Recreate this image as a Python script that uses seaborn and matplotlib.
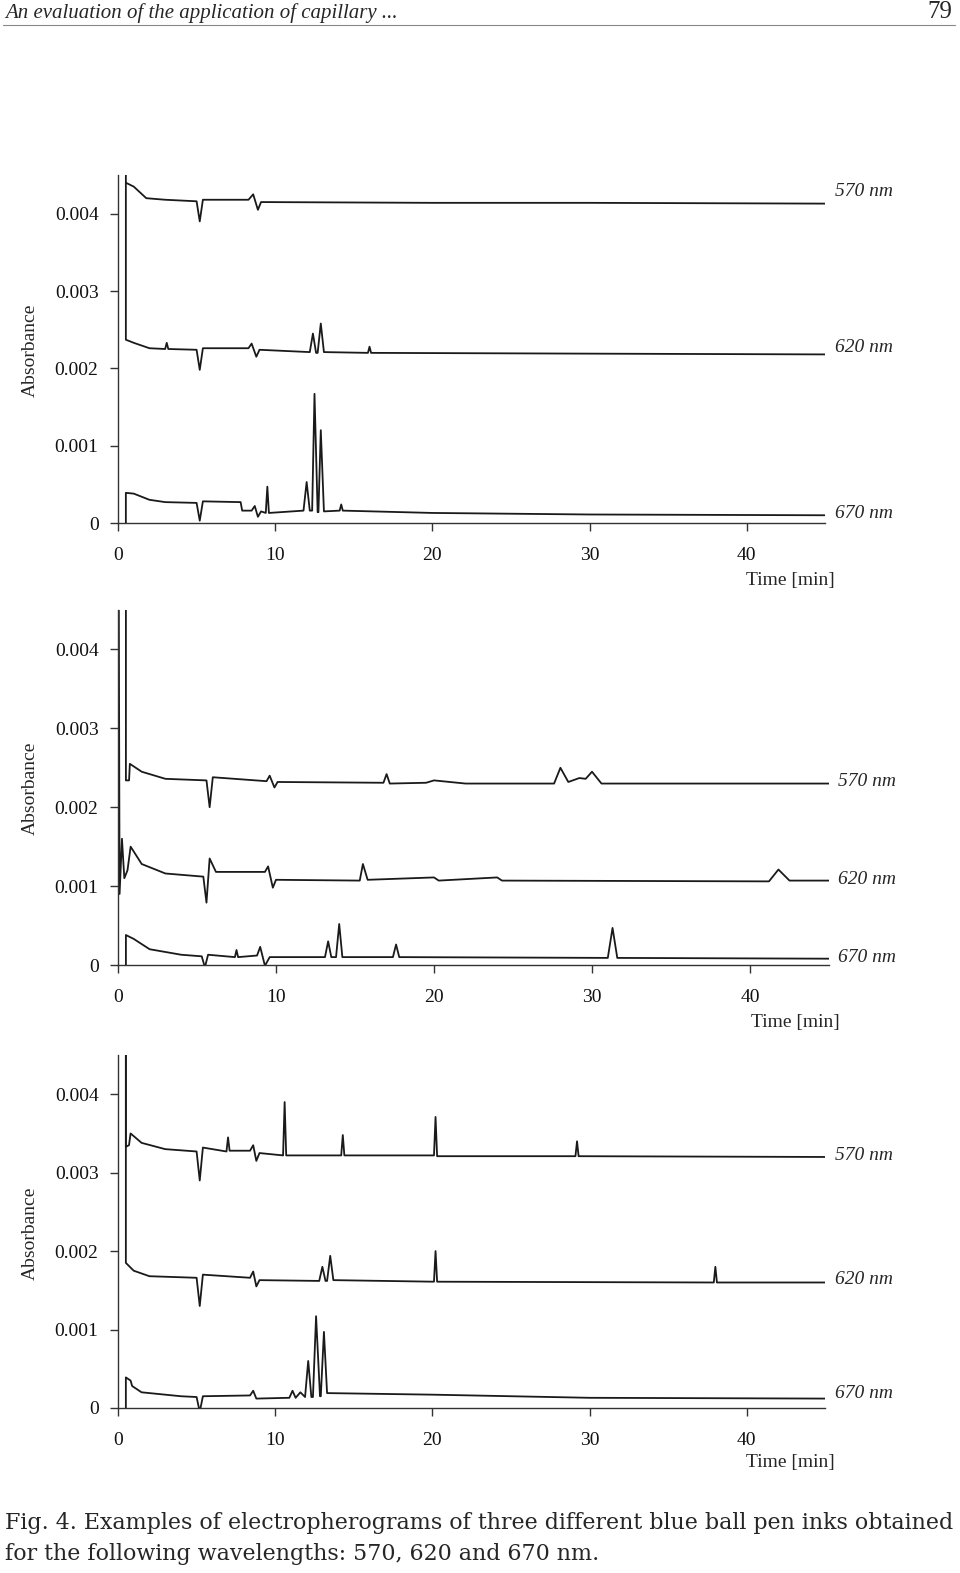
import matplotlib
matplotlib.use("Agg")
import matplotlib.pyplot as plt
import seaborn as sns
import pandas as pd

sns.set_theme(style="white")
plt.rcParams["font.family"] = "Liberation Serif"

# ---- data: keypoints (time [min], absorbance) per trace ----
P1_570 = [(0.5,0.0044),(1,0.00435),(1.8,0.0042),(3,0.00418),(5.0,0.00416),(5.2,0.0039),(5.4,0.00418),(8.3,0.00418),(8.6,0.00425),(8.9,0.00405),(9.1,0.00415),(20,0.00414),(30,0.00414),(45,0.00413)]
P1_620 = [(0.5,0.0046),(0.5,0.00237),(1,0.00233),(2,0.00226),(3.0,0.00225),(3.1,0.00233),(3.2,0.00225),(5.0,0.00224),(5.2,0.00198),(5.4,0.00226),(8.3,0.00226),(8.5,0.00232),(8.8,0.00215),(9.0,0.00224),(12.2,0.00221),(12.4,0.00245),(12.6,0.0022),(12.7,0.0022),(12.9,0.00258),(13.1,0.00221),(15.9,0.0022),(16.0,0.00228),(16.1,0.0022),(30,0.00219),(45,0.00218)]
P1_670 = [(0.5,0),(0.5,0.00039),(1,0.00038),(2,0.0003),(3,0.00027),(5.0,0.00026),(5.2,0.00003),(5.4,0.00028),(7.8,0.00027),(7.9,0.00016),(8.5,0.00016),(8.7,0.00022),(8.9,0.00008),(9.1,0.00015),(9.4,0.00013),(9.5,0.00047),(9.6,0.00013),(11.8,0.00016),(12.0,0.00053),(12.2,0.00016),(12.35,0.00016),(12.5,0.00167),(12.7,0.00014),(12.75,0.00014),(12.9,0.0012),(13.1,0.00015),(14.1,0.00016),(14.2,0.00024),(14.3,0.00016),(20,0.00013),(30,0.00011),(45,0.0001)]

P2_570 = [(0.5,0.0046),(0.5,0.00234),(0.7,0.00234),(0.75,0.00255),(1.5,0.00245),(3,0.00236),(5.6,0.00234),(5.8,0.002),(6.0,0.00238),(9.4,0.00233),(9.6,0.0024),(9.9,0.00225),(10.1,0.00232),(16.8,0.00231),(17.0,0.00242),(17.2,0.0023),(19.5,0.00231),(20,0.00234),(22,0.0023),(27.6,0.0023),(28.0,0.0025),(28.5,0.00232),(29.2,0.00237),(29.6,0.00236),(30.0,0.00245),(30.6,0.0023),(45,0.0023)]
P2_620 = [(0.05,0.0046),(0.1,0.0009),(0.25,0.0016),(0.4,0.0011),(0.6,0.0012),(0.8,0.0015),(1.5,0.00128),(3,0.00116),(5.4,0.00112),(5.6,0.00079),(5.8,0.00135),(6.2,0.00118),(9.3,0.00118),(9.5,0.00125),(9.8,0.00098),(10,0.00108),(15.3,0.00107),(15.5,0.00128),(15.8,0.00108),(20,0.00111),(20.3,0.00107),(24,0.00111),(24.3,0.00107),(41.2,0.00106),(41.8,0.00121),(42.5,0.00107),(45,0.00107)]
P2_670 = [(0.5,0),(0.5,0.00038),(1,0.00033),(2,0.0002),(4,0.00013),(5.3,0.00011),(5.5,-0.00003),(5.7,0.00013),(7.4,0.0001),(7.5,0.00019),(7.6,0.0001),(8.8,0.00012),(9.0,0.00023),(9.3,-0.00001),(9.6,0.0001),(13.1,0.0001),(13.3,0.0003),(13.5,0.0001),(13.8,0.0001),(14.0,0.00052),(14.2,0.0001),(17.4,0.0001),(17.6,0.00026),(17.8,0.0001),(31.0,0.00009),(31.3,0.00047),(31.6,0.00009),(45,0.00008)]

P3_570 = [(0.5,0.0046),(0.5,0.00333),(0.7,0.00335),(0.8,0.0035),(1.5,0.00338),(3,0.0033),(5.0,0.00327),(5.2,0.0029),(5.4,0.00332),(6.9,0.00327),(7.0,0.00345),(7.1,0.00328),(8.4,0.00328),(8.6,0.00335),(8.8,0.00315),(9.0,0.00325),(10.5,0.00322),(10.6,0.0039),(10.7,0.00322),(14.2,0.00322),(14.3,0.00348),(14.4,0.00322),(20.1,0.00322),(20.2,0.00371),(20.3,0.00321),(29.1,0.00321),(29.2,0.0034),(29.3,0.00321),(45,0.0032)]
P3_620 = [(0.5,0.0046),(0.5,0.00185),(1,0.00175),(2,0.00168),(5.0,0.00166),(5.2,0.0013),(5.4,0.0017),(8.4,0.00166),(8.6,0.00174),(8.8,0.00155),(9.0,0.00163),(12.8,0.00162),(13.0,0.0018),(13.2,0.00162),(13.3,0.00162),(13.5,0.00194),(13.7,0.00163),(20.1,0.00161),(20.2,0.002),(20.3,0.00161),(37.9,0.0016),(38.0,0.0018),(38.1,0.0016),(45,0.0016)]
P3_670 = [(0.5,0),(0.5,0.00039),(0.8,0.00035),(0.9,0.00028),(1.5,0.0002),(4,0.00015),(5.0,0.00014),(5.2,-0.00005),(5.4,0.00015),(8.4,0.00016),(8.6,0.00022),(8.8,0.00012),(10.9,0.00013),(11.1,0.00022),(11.3,0.00013),(11.6,0.0002),(11.9,0.00014),(12.1,0.0006),(12.3,0.00014),(12.4,0.00014),(12.6,0.00117),(12.85,0.00015),(12.9,0.00015),(13.1,0.00097),(13.3,0.00019),(20,0.00017),(30,0.00013),(45,0.00012)]

x_ticks = [0, 10, 20, 30, 40]
y_ticks = [0, 0.001, 0.002, 0.003, 0.004]
y_tick_labels = ["0", "0.001", "0.002", "0.003", "0.004"]
wavelengths = ["570 nm", "620 nm", "670 nm"]

panels = [
    dict(traces=[P1_570, P1_620, P1_670], zero=523, top=175, ppm=15.72, lab_y=[192, 347, 514], lab_x=835, time=(790, 581), absb=350),
    dict(traces=[P2_570, P2_620, P2_670], zero=965, top=610, ppm=15.8, lab_y=[782, 879, 957], lab_x=838, time=(795, 1022), absb=788),
    dict(traces=[P3_570, P3_620, P3_670], zero=1408, top=1055, ppm=15.72, lab_y=[1155, 1280, 1394], lab_x=835, time=(790, 1462), absb=1233),
]

W, H = 960, 1573
fig = plt.figure(figsize=(W/100, H/100), dpi=100)

# header
fig.text(5/W, 1-13/H, "An evaluation of the application of capillary ...", fontsize=15, style="italic", va="center", ha="left")
fig.text(952/W, 1-12/H, "79", fontsize=18, va="center", ha="right")
fig.add_artist(plt.Line2D([3/W, 955/W], [1-25/H, 1-25/H], color="#888888", lw=0.8))

for p in panels:
    left = 118
    xmax = 45
    width = p["ppm"] * xmax
    ymax = 0.0045
    ax = fig.add_axes([left/W, 1-p["zero"]/H, width/W, (p["zero"]-p["top"])/H])
    for tr in p["traces"]:
        df = pd.DataFrame(tr, columns=["t", "A"])
        sns.lineplot(data=df, x="t", y="A", ax=ax, color="#1a1a1a", lw=1.3, sort=False, estimator=None)
    ax.set_xlim(0, xmax)
    ax.set_ylim(0, ymax)
    for s in ["top", "right"]:
        ax.spines[s].set_visible(False)
    for s in ["left", "bottom"]:
        ax.spines[s].set_color("#333333")
        ax.spines[s].set_linewidth(1.0)
    ax.set_xticks(x_ticks)
    ax.set_yticks(y_ticks)
    ax.set_yticklabels(y_tick_labels)
    ax.tick_params(axis="both", direction="out", length=6, width=1, colors="#333333", labelcolor="#111111", labelsize=14, left=True, bottom=True)
    ax.tick_params(axis="x", pad=11)
    ax.tick_params(axis="y", pad=8)
    ax.set_xlabel("")
    ax.set_ylabel("")
    for wl, ly in zip(wavelengths, p["lab_y"]):
        fig.text(p["lab_x"]/W, 1-ly/H, wl, fontsize=14, style="italic", va="center", ha="left")
    fig.text(p["time"][0]/W, 1-p["time"][1]/H, "Time [min]", fontsize=14, va="center", ha="center")
    fig.text(30/W, 1-p["absb"]/H, "Absorbance", fontsize=14, rotation=90, va="center", ha="center")

fig.text(5/W, 1-1523/H, "Fig. 4. Examples of electropherograms of three different blue ball pen inks obtained",
         fontsize=15.9, family="DejaVu Serif", va="center", ha="left")
fig.text(5/W, 1-1554/H, "for the following wavelengths: 570, 620 and 670 nm.",
         fontsize=15.9, family="DejaVu Serif", va="center", ha="left")

fig.savefig("out.png", dpi=100)
